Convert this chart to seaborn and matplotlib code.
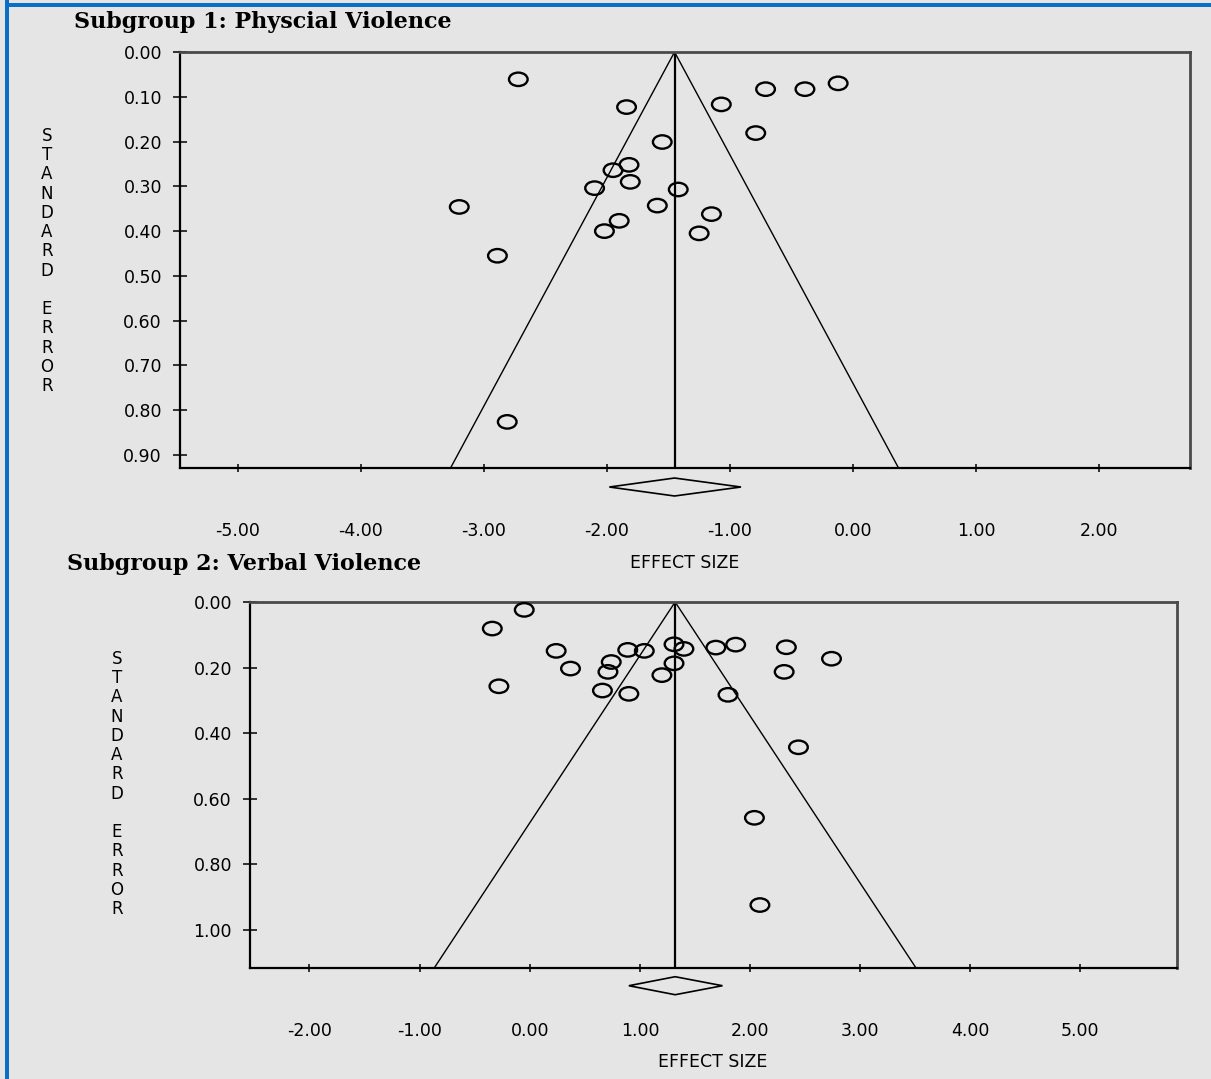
import numpy as np
import pandas as pd
import matplotlib
matplotlib.use("Agg")
import matplotlib.pyplot as plt
import matplotlib.transforms as mtransforms
from matplotlib.path import Path
from matplotlib.markers import MarkerStyle
from matplotlib.patches import Polygon, Rectangle
import seaborn as sns

# ---------------- data ----------------
# Subgroup 1: Physical violence (effect size, standard error)
phys_effect = [-2.72, -1.84, -1.07, -0.71, -0.39, -0.12, -0.79, -1.55, -1.82, -1.95,
               -2.10, -1.81, -1.42, -1.59, -3.20, -1.15, -1.90, -2.02, -1.25, -2.89, -2.81]
phys_se = [0.061, 0.123, 0.117, 0.083, 0.083, 0.070, 0.181, 0.201, 0.252, 0.264,
           0.304, 0.290, 0.307, 0.343, 0.346, 0.362, 0.377, 0.400, 0.405, 0.455, 0.826]
phys_mean = -1.45
phys_ci = [-1.98, -0.91]

# Subgroup 2: Verbal violence
verb_effect = [-0.05, -0.34, 0.24, 0.89, 1.04, 1.31, 1.40, 1.69, 1.87, 2.33, 2.74, 0.74,
               0.37, 0.71, 1.31, 1.20, 2.31, -0.28, 0.66, 0.90, 1.80, 2.44, 2.04, 2.09]
verb_se = [0.024, 0.081, 0.149, 0.146, 0.149, 0.129, 0.143, 0.139, 0.130, 0.138, 0.173, 0.183,
           0.203, 0.213, 0.187, 0.223, 0.213, 0.257, 0.270, 0.280, 0.283, 0.443, 0.658, 0.924]
verb_mean = 1.32
verb_ci = [0.90, 1.75]

titles = ["Subgroup 1: Physcial Violence", "Subgroup 2: Verbal Violence"]
x_label = "EFFECT SIZE"
y_label = "STANDARD ERROR"
phys_xticks = [-5, -4, -3, -2, -1, 0, 1, 2]
phys_yticks = [0.0, 0.1, 0.2, 0.3, 0.4, 0.5, 0.6, 0.7, 0.8, 0.9]
verb_xticks = [-2, -1, 0, 1, 2, 3, 4, 5]
verb_yticks = [0.0, 0.2, 0.4, 0.6, 0.8, 1.0]

# ---------------- style ----------------
W, H = 1211, 1079
BG = "#e5e5e5"
sns.set_theme(style="white")
plt.rcParams["font.family"] = ["DejaVu Sans"]
plt.rcParams["axes.unicode_minus"] = False
plt.rcParams["text.color"] = "black"

fig = plt.figure(figsize=(W / 100, H / 100), dpi=100, facecolor=BG)


def fx(px):
    return px / W


def fy(py):
    return 1 - py / H


# elliptical open marker (wider than tall)
circ = Path.unit_circle()
ell = Path(circ.vertices * np.array([1.0, 0.72]), circ.codes)
ell_marker = MarkerStyle(ell)


def funnel(ax_box, eff, se, mean, ci, xlim, ymax, xticks, yticks, diamond_y, diamond_h):
    l, t, r, b = ax_box
    ax = fig.add_axes([fx(l), fy(b), fx(r) - fx(l), fy(t) - fy(b)])
    ax.set_facecolor(BG)
    df = pd.DataFrame({"effect": eff, "se": se})

    # funnel lines and mean line
    se_line = np.array([0.0, ymax])
    ax.plot(mean - 1.96 * se_line, se_line, color="black", lw=1.0, zorder=2)
    ax.plot(mean + 1.96 * se_line, se_line, color="black", lw=1.0, zorder=2)
    ax.axvline(mean, color="black", lw=1.6, zorder=2)

    sns.scatterplot(data=df, x="effect", y="se", ax=ax, marker=ell_marker, s=180,
                    facecolor="none", edgecolor="black", linewidth=1.7, zorder=3)

    ax.set_xlim(*xlim)
    ax.set_ylim(ymax, 0)
    ax.set_xticks(xticks)
    ax.set_xticklabels([f"{v:.2f}" for v in xticks])
    ax.set_yticks(yticks)
    ax.set_yticklabels([f"{v:.2f}" for v in yticks])
    ax.set_xlabel("")
    ax.set_ylabel("")
    ax.tick_params(axis="x", direction="inout", length=6, width=1.1, pad=36,
                   labelsize=12.5, colors="black", bottom=True)
    ax.tick_params(axis="y", direction="inout", length=10, width=1.1, pad=8,
                   labelsize=12.5, colors="black", left=True)
    for side in ["left", "bottom"]:
        ax.spines[side].set_color("black")
        ax.spines[side].set_linewidth(1.6)
    for side in ["top", "right"]:
        ax.spines[side].set_color("#4a4a4a")
        ax.spines[side].set_linewidth(2.0)
    for sp in ax.spines.values():
        sp.set_visible(True)

    # summary diamond below the axis
    trans = mtransforms.blended_transform_factory(ax.transData, ax.transAxes)
    dia = Polygon([[ci[0], diamond_y], [mean, diamond_y + diamond_h],
                   [ci[1], diamond_y], [mean, diamond_y - diamond_h]],
                  closed=True, facecolor="none", edgecolor="black", lw=1.2,
                  transform=trans, clip_on=False)
    ax.add_patch(dia)
    return ax


ax1 = funnel((180, 52, 1190, 468), phys_effect, phys_se, phys_mean, phys_ci,
             (-5.47, 2.74), 0.929, phys_xticks, phys_yticks, -0.0457, 0.0216)
ax2 = funnel((250, 602, 1177, 968), verb_effect, verb_se, verb_mean, verb_ci,
             (-2.54, 5.877), 1.116, verb_xticks, verb_yticks, -0.0484, 0.0246)

# titles
title_font = ["DejaVu Serif"]
fig.text(fx(74), fy(22), titles[0], ha="left", va="center", fontsize=16,
         fontweight="bold", family=title_font)
fig.text(fx(67), fy(564), titles[1], ha="left", va="center", fontsize=16,
         fontweight="bold", family=title_font)

# axis labels
fig.text(fx(685), fy(563), x_label, ha="center", va="center", fontsize=12.5)
fig.text(fx(713), fy(1062), x_label, ha="center", va="center", fontsize=12.5)
vert = "\n".join(list(y_label))
fig.text(fx(47), fy(261), vert, ha="center", va="center", fontsize=12, linespacing=1.09)
fig.text(fx(117), fy(784), vert, ha="center", va="center", fontsize=12, linespacing=1.09)

# blue frame (left and top)
fig.add_artist(Rectangle((fx(5), 0), fx(4), 1, transform=fig.transFigure,
                         facecolor="#0a6fc6", edgecolor="none"))
fig.add_artist(Rectangle((fx(5), fy(7)), 1, fy(3) - fy(7), transform=fig.transFigure,
                         facecolor="#0a6fc6", edgecolor="none"))

fig.savefig("out.png", dpi=100, facecolor=BG)
